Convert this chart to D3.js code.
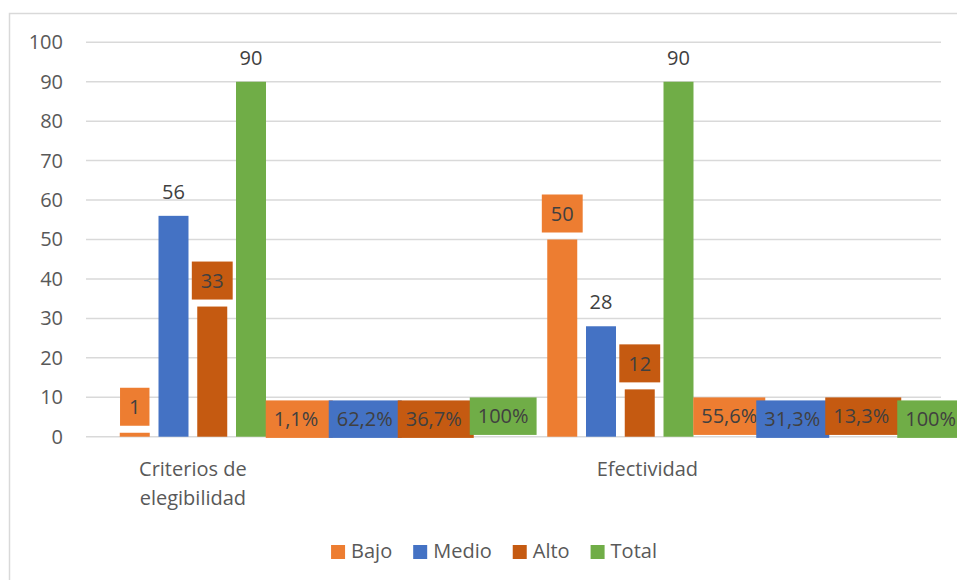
<!DOCTYPE html>
<html><head><meta charset="utf-8">
<script src="https://cdn.jsdelivr.net/npm/d3@7/dist/d3.min.js"></script>
<style>
html,body{margin:0;padding:0;background:#fff;}
svg{display:block;font-family:"Open Sans",sans-serif;}
</style></head>
<body>
<svg id="chart" width="957" height="580"></svg>
<script>
// ---- data ----
const categories = ["Criterios de elegibilidad", "Efectividad"];
const categoryLines = [["Criterios de", "elegibilidad"], ["Efectividad"]];
const series = ["Bajo", "Medio", "Alto", "Total"];
const bajo  = [1, 50];
const medio = [56, 28];
const alto  = [33, 12];
const total = [90, 90];
const bajoPct  = ["1,1%", "55,6%"];
const medioPct = ["62,2%", "31,3%"];
const altoPct  = ["36,7%", "13,3%"];
const totalPct = ["100%", "100%"];
const yTicks = [0,10,20,30,40,50,60,70,80,90,100];

const values = [bajo, medio, alto, total];
const pcts = [bajoPct, medioPct, altoPct, totalPct];
const colors = ["#ED7D31", "#4472C4", "#C55A11", "#70AD47"];
const boxed = [true, false, true, false];

const svg = d3.select("#chart");
// chart border
svg.append("rect").attr("x", 9.5).attr("y", 13.5).attr("width", 1000).attr("height", 700)
  .attr("fill", "#fff").attr("stroke", "#d9d9d9").attr("stroke-width", 1.5);

const slots = d3.range(categories.length * 2);
const x = d3.scaleBand().domain(slots).range([86, 941]).padding(0);
const x1 = d3.scaleBand().domain(series).range([-77.5, 77.5]).paddingInner(0.226).paddingOuter(0.113);
const y = d3.scaleLinear().domain([0, 100]).range([436.7, 42.3]);

// grid
svg.append("g").selectAll("line").data(yTicks).join("line")
  .attr("x1", 86).attr("x2", 941).attr("y1", d => y(d)).attr("y2", d => y(d))
  .attr("stroke", "#d9d9d9").attr("stroke-width", 1.5);

// y axis labels
const yAxis = d3.axisLeft(y).tickValues(yTicks).tickSize(0).tickPadding(0);
const gy = svg.append("g").attr("transform", "translate(63,0)").call(yAxis);
gy.select(".domain").remove();
gy.selectAll("text").attr("font-size", 20).attr("fill", "#595959").attr("font-family", "Open Sans");

const catCenter = i => x(i * 2) + x.bandwidth() / 2;

categories.forEach((c, ci) => {
  const g = svg.append("g");
  series.forEach((s, si) => {
    const v = values[si][ci];
    const bx = catCenter(ci) + x1(s);
    g.append("rect").attr("x", bx).attr("y", y(v)).attr("width", x1.bandwidth())
      .attr("height", y(0) - y(v)).attr("fill", colors[si]);
  });
  // value labels
  series.forEach((s, si) => {
    const v = values[si][ci];
    const cx = catCenter(ci) + x1(s) + x1.bandwidth() / 2;
    const t = g.append("text").attr("x", cx).attr("text-anchor", "middle")
      .attr("font-size", 20).attr("fill", "#404040").text(v);
    if (boxed[si]) {
      const w = t.node().getComputedTextLength() + 18;
      const bottom = y(v) - 7, h = 38;
      g.insert("rect", "text").attr("x", cx - w / 2).attr("y", bottom - h).attr("width", w).attr("height", h)
        .attr("fill", colors[si]);
      t.attr("y", bottom - h / 2).attr("dy", "0.36em");
    } else {
      t.attr("y", y(v) - 17);
    }
  });
  // percentage boxes in the following slot
  const start = x(ci * 2 + 1);
  const offs = [-34, 29, 98, 170];
  const stagger = ci === 0 ? [0, 0, 0, -3] : [-3, 0, -3, 0];
  series.forEach((s, si) => {
    const bx = start + offs[si];
    const top = y(9.2) + stagger[si];
    const t = g.append("text").attr("x", bx + 8).attr("y", top + 18.5).attr("dy", "0.36em")
      .attr("font-size", 20).attr("fill", "#404040").text(pcts[si][ci]);
    let w = t.node().getComputedTextLength() + 16;
    if (si < series.length - 1) w = Math.max(w, offs[si + 1] - offs[si] + 4);
    g.insert("rect", () => t.node()).attr("x", bx).attr("y", top).attr("width", w).attr("height", 37.5)
      .attr("fill", colors[si]);
  });
});

// category labels
const catOffset = [0, 27];
categoryLines.forEach((lines, ci) => {
  const t = svg.append("text").attr("text-anchor", "middle").attr("font-size", 20).attr("fill", "#595959");
  lines.forEach((ln, li) => {
    t.append("tspan").attr("x", catCenter(ci) + catOffset[ci]).attr("y", 476 + li * 29).text(ln);
  });
});

// legend
const lg = svg.append("g");
let lx = 0;
series.forEach((s, si) => {
  const item = lg.append("g").attr("transform", `translate(${lx},0)`);
  item.append("rect").attr("x", 0).attr("y", 545).attr("width", 14).attr("height", 14).attr("fill", colors[si]);
  const t = item.append("text").attr("x", 20).attr("y", 558).attr("font-size", 20).attr("fill", "#595959").text(s);
  lx += 20 + t.node().getComputedTextLength() + 21;
});
const lw = lx - 21;
lg.attr("transform", `translate(${494 - lw / 2},0)`);
</script>
</body></html>
